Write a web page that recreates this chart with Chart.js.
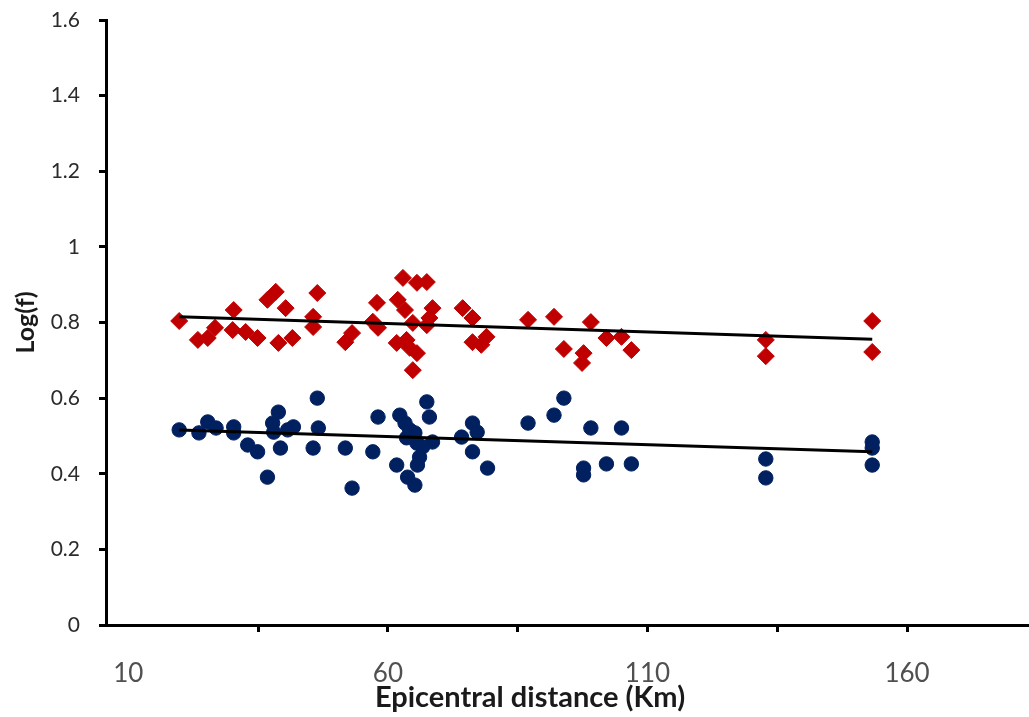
<!DOCTYPE html>
<html>
<head>
<meta charset="utf-8">
<title>Log(f) vs epicentral distance</title>
<script src="https://cdn.jsdelivr.net/npm/chart.js@4/dist/chart.umd.min.js"></script>
<style>
  html, body { margin: 0; padding: 0; background: #fff; }
  #wrap { width: 1029px; height: 717px; }
</style>
</head>
<body>
<div id="wrap"><canvas id="scatterChart" width="1029" height="717"></canvas></div>
<script>
// red diamonds (upper group)
const redDistance = [19.8, 23.4, 25.3, 26.7, 30.3, 30.1, 32.6, 34.9, 36.8, 38.4,
  40.3, 38.9, 41.6, 46.4, 45.6, 45.6, 51.8, 53.1, 57.9, 57.1,
  58.1, 62.9, 65.6, 67.5, 61.9, 63.3, 64.8, 67.5, 68.6, 68.0,
  61.7, 63.6, 64.2, 65.6, 64.8, 74.4, 76.3, 76.3, 78.0, 79.0,
  87.0, 92.0, 93.9, 99.1, 97.7, 97.4, 102.1, 105.0, 106.9, 132.8,
  132.8, 153.3, 153.3];
const redLogF = [0.804, 0.754, 0.759, 0.786, 0.833, 0.780, 0.775, 0.759, 0.860, 0.881,
  0.838, 0.746, 0.759, 0.878, 0.815, 0.788, 0.748, 0.772, 0.852, 0.802,
  0.786, 0.918, 0.905, 0.907, 0.860, 0.833, 0.799, 0.793, 0.838, 0.812,
  0.746, 0.754, 0.733, 0.719, 0.674, 0.838, 0.812, 0.748, 0.741, 0.762,
  0.807, 0.815, 0.730, 0.801, 0.719, 0.693, 0.759, 0.762, 0.727, 0.754,
  0.711, 0.804, 0.722];

// blue circles (lower group)
const blueDistance = [19.8, 23.6, 25.3, 26.9, 30.3, 30.3, 33.0, 34.9, 36.8, 37.8,
  38.9, 38.0, 39.3, 41.8, 40.7, 46.4, 46.6, 45.6, 51.8, 53.1,
  58.1, 57.1, 62.3, 63.3, 64.2, 65.2, 67.5, 68.0, 63.6, 65.6,
  68.6, 66.7, 66.1, 65.7, 61.7, 63.8, 65.2, 74.2, 76.3, 77.2,
  76.3, 79.2, 87.0, 93.9, 92.0, 99.1, 105.0, 97.7, 97.7, 102.1,
  106.9, 132.8, 132.8, 153.3, 153.3, 153.3];
const blueLogF = [0.516, 0.508, 0.537, 0.521, 0.524, 0.508, 0.476, 0.458, 0.391, 0.534,
  0.563, 0.510, 0.468, 0.524, 0.516, 0.600, 0.521, 0.468, 0.468, 0.362,
  0.550, 0.458, 0.555, 0.534, 0.516, 0.508, 0.590, 0.550, 0.495, 0.481,
  0.484, 0.471, 0.444, 0.423, 0.423, 0.391, 0.370, 0.497, 0.534, 0.510,
  0.458, 0.415, 0.534, 0.600, 0.555, 0.521, 0.521, 0.415, 0.397, 0.426,
  0.426, 0.439, 0.389, 0.484, 0.468, 0.423];

// linear trend lines, end points
const trendDistance = [19.8, 153.3];
const redTrend = [0.815, 0.756];
const blueTrend = [0.516, 0.458];

// axes
const xTickValues = [10, 35, 60, 85, 110, 135, 160];
const xTickLabels = ['10', '', '60', '', '110', '', '160'];
const xTitle = 'Epicentral distance (Km)';
const yTitle = 'Log(f)';

const toPoints = (xs, ys) => xs.map((x, i) => ({ x: x, y: ys[i] }));

// x title sits a bit left of the plot centre, drawn by hand
const xTitlePlugin = {
  id: 'xTitle',
  afterDraw(chart) {
    const ctx = chart.ctx;
    ctx.save();
    ctx.font = 'bold 29px Lato';
    ctx.fillStyle = '#1a1a1a';
    ctx.textAlign = 'center';
    ctx.textBaseline = 'middle';
    ctx.fillText(xTitle, chart.chartArea.left + 424, 698);
    ctx.restore();
  }
};

const chart = new Chart(document.getElementById('scatterChart'), {
  type: 'scatter',
  data: {
    datasets: [
      {
        type: 'line',
        data: toPoints(trendDistance, redTrend),
        borderColor: '#000',
        borderWidth: 3,
        pointRadius: 0,
        fill: false,
        order: 1
      },
      {
        type: 'line',
        data: toPoints(trendDistance, blueTrend),
        borderColor: '#000',
        borderWidth: 3,
        pointRadius: 0,
        fill: false,
        order: 1
      },
      {
        data: toPoints(redDistance, redLogF),
        pointStyle: 'rectRot',
        pointRadius: 8.5,
        backgroundColor: '#C00000',
        borderColor: '#C00000',
        borderWidth: 1,
        order: 2
      },
      {
        data: toPoints(blueDistance, blueLogF),
        pointStyle: 'circle',
        pointRadius: 7.2,
        backgroundColor: '#002060',
        borderColor: '#002060',
        borderWidth: 1,
        order: 2
      }
    ]
  },
  options: {
    responsive: false,
    animation: false,
    layout: {
      autoPadding: false,
      padding: { top: 20, right: 0, left: 0, bottom: 0 }
    },
    plugins: {
      legend: { display: false },
      tooltip: { enabled: false }
    },
    scales: {
      x: {
        type: 'linear',
        min: 5.7,
        max: 183.5,
        afterBuildTicks: (scale) => {
          scale.ticks = xTickValues.map(v => ({ value: v }));
        },
        afterFit: (scale) => {
          scale.height = 92;
          scale.paddingLeft = 0;
          scale.paddingRight = 0;
        },
        border: { color: '#000', width: 3 },
        grid: {
          drawOnChartArea: false,
          tickLength: 7,
          tickWidth: 3,
          tickColor: (ctx) => (ctx.tick && ctx.tick.value === 10 ? 'rgba(0,0,0,0)' : '#000')
        },
        ticks: {
          autoSkip: false,
          maxRotation: 0,
          padding: 26,
          color: '#505050',
          font: { family: 'Lato', size: 26 },
          callback: (value, index) => xTickLabels[index]
        }
      },
      y: {
        min: 0,
        max: 1.6,
        afterFit: (scale) => {
          scale.width = 106;
          scale.paddingTop = 0;
          scale.paddingBottom = 0;
        },
        border: { color: '#000', width: 3 },
        grid: {
          drawOnChartArea: false,
          tickLength: 7,
          tickWidth: 3,
          tickColor: '#000'
        },
        ticks: {
          stepSize: 0.2,
          padding: 19,
          color: '#2b2b2b',
          font: { family: 'Lato', size: 21 },
          callback: (value) => String(Number(value.toFixed(1)))
        },
        title: {
          display: true,
          text: yTitle,
          color: '#1a1a1a',
          font: { family: 'Lato', size: 25, weight: 'bold' },
          padding: 11
        }
      }
    }
  },
  plugins: [xTitlePlugin]
});
</script>
</body>
</html>
